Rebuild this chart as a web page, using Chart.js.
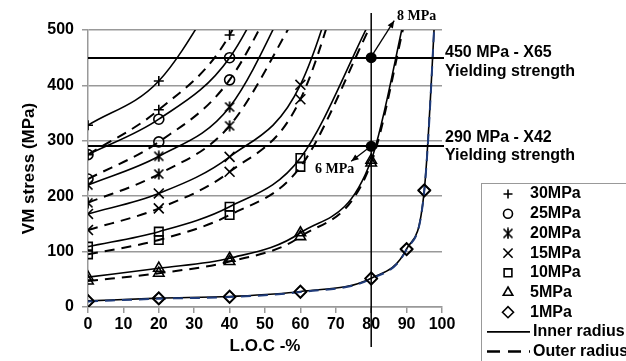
<!DOCTYPE html>
<html>
<head>
<meta charset="utf-8">
<script src="https://cdn.jsdelivr.net/npm/chart.js@4.4.0/dist/chart.umd.min.js"></script>
<style>
  html, body { margin: 0; padding: 0; background: #fff; }
  #wrap { width: 626px; height: 361px; position: relative; }
</style>
</head>
<body>
<div id="wrap"><canvas id="myChart" width="626" height="361"></canvas></div>
<script>
// L.O.C positions (%) where the curves were sampled
const locPct = [0, 20, 40, 60, 80, 90, 95, 99];

// VM stress (MPa), inner radius = solid, outer radius = dashed
const inner30 = [328, 408, 600];
const outer30 = [275, 356, 491, 800];
const inner25 = [275, 339, 450, 700];
const outer25 = [231, 298, 410, 650];
const inner20 = [220, 272, 361, 600];
const outer20 = [188, 240, 327, 540];
const inner15 = [168, 205, 271, 401, 800];
const outer15 = [139, 178, 244, 375, 780];
const inner10 = [109, 136, 181, 269, 520];
const outer10 = [95, 121, 166, 253, 510];
const inner5 = [54, 70, 88, 134, 265, 540];
const outer5 = [47, 61, 82, 127, 260, 530];
const inner1 = [11, 16, 19, 28, 52, 105, 211, 650];
const outer1 = [10, 15, 18, 27, 51, 104, 210, 650];

const pressures = ["30MPa", "25MPa", "20MPa", "15MPa", "10MPa", "5MPa", "1MPa"];
const xTicks = [0, 10, 20, 30, 40, 50, 60, 70, 80, 90, 100];
const yTicks = [0, 100, 200, 300, 400, 500];
const yieldLines = [450, 290];

// star marker like excel (x with a vertical bar)
const star = document.createElement("canvas");
star.width = 12;
star.height = 12;
const sctx = star.getContext("2d");
sctx.strokeStyle = "#000";
sctx.lineWidth = 1.7;
sctx.beginPath();
sctx.moveTo(1.5, 1.5); sctx.lineTo(10.5, 10.5);
sctx.moveTo(10.5, 1.5); sctx.lineTo(1.5, 10.5);
sctx.moveTo(6, 0.5); sctx.lineTo(6, 11.5);
sctx.stroke();

const styles = ["cross", "circle", star, "crossRot", "rect", "triangle", "rectRot"];
const radii = [5, 5, 6, 7, 6, 6, 6];

function pts(vals) {
  return vals.map((v, i) => ({ x: locPct[i], y: v }));
}

function series(label, vals, k, dashed, color) {
  return {
    label: label,
    data: pts(vals),
    borderColor: color || "#000",
    borderWidth: dashed ? 2 : 1.6,
    borderDash: dashed ? [10, 7] : [],
    pointStyle: styles[k],
    pointRadius: radii[k],
    pointBorderColor: "#000",
    pointBackgroundColor: "rgba(0,0,0,0)",
    pointBorderWidth: 1.6,
    fill: false,
    cubicInterpolationMode: "monotone",
  };
}

const datasets = [
  series("30 outer", outer30, 0, true),
  series("30 inner", inner30, 0, false),
  series("25 outer", outer25, 1, true),
  series("25 inner", inner25, 1, false),
  series("20 outer", outer20, 2, true),
  series("20 inner", inner20, 2, false),
  series("15 outer", outer15, 3, true),
  series("15 inner", inner15, 3, false),
  series("10 outer", outer10, 4, true),
  series("10 inner", inner10, 4, false),
  series("5 outer", outer5, 5, true),
  series("5 inner", inner5, 5, false),
  series("1 outer", outer1, 6, true, "#1f3b7a"),
  series("1 inner", inner1, 6, false),
];

function arrow(ctx, x1, y1, x2, y2) {
  ctx.beginPath();
  ctx.moveTo(x1, y1);
  ctx.lineTo(x2, y2);
  ctx.stroke();
  const a = Math.atan2(y2 - y1, x2 - x1);
  ctx.beginPath();
  ctx.moveTo(x2, y2);
  ctx.lineTo(x2 - 8 * Math.cos(a - 0.4), y2 - 8 * Math.sin(a - 0.4));
  ctx.lineTo(x2 - 8 * Math.cos(a + 0.4), y2 - 8 * Math.sin(a + 0.4));
  ctx.closePath();
  ctx.fill();
}

const extras = {
  id: "extras",
  afterDraw(chart) {
    const ctx = chart.ctx;
    const xs = chart.scales.x, ys = chart.scales.y;
    const ca = chart.chartArea;
    ctx.save();
    ctx.strokeStyle = "#000";
    ctx.fillStyle = "#000";

    // yield strength lines
    ctx.lineWidth = 2;
    yieldLines.forEach(v => {
      const y = Math.round(ys.getPixelForValue(v));
      ctx.beginPath();
      ctx.moveTo(ca.left, y);
      ctx.lineTo(ca.right + 2, y);
      ctx.stroke();
    });

    // vertical line at 80 %
    const x80 = xs.getPixelForValue(80);
    ctx.lineWidth = 1.5;
    ctx.beginPath();
    ctx.moveTo(x80, 13);
    ctx.lineTo(x80, 347);
    ctx.stroke();

    // intersection dots
    yieldLines.forEach(v => {
      ctx.beginPath();
      ctx.arc(x80, ys.getPixelForValue(v), 5.5, 0, Math.PI * 2);
      ctx.fill();
    });

    // arrows + labels
    ctx.lineWidth = 1.3;
    const y450 = ys.getPixelForValue(450), y290 = ys.getPixelForValue(290);
    arrow(ctx, x80 + 2, y450 - 4, x80 + 23, y450 - 37);
    arrow(ctx, x80 - 3, y290 + 2, x80 - 20, y290 + 15);
    ctx.font = "bold 14px 'Liberation Serif', 'Times New Roman', serif";
    ctx.textBaseline = "alphabetic";
    ctx.textAlign = "left";
    ctx.fillText("8 MPa", 397, 20);
    ctx.fillText("6 MPa", 315, 173);

    ctx.font = "bold 16px 'Liberation Sans', Arial, sans-serif";
    ctx.fillText("450 MPa - X65", 445, 57);
    ctx.fillText("Yielding strength", 445, 76);
    ctx.fillText("290 MPa - X42", 445, 142);
    ctx.fillText("Yielding strength", 445, 160);

    // legend box
    ctx.strokeStyle = "#999";
    ctx.lineWidth = 1;
    ctx.strokeRect(481.5, 183.5, 160, 190);
    ctx.strokeStyle = "#000";
    ctx.textBaseline = "middle";
    const rowY = i => 194 + i * 19.7;
    pressures.forEach((p, i) => {
      ctx.fillStyle = "rgba(0,0,0,0)";
      ctx.lineWidth = 1.6;
      Chart.helpers.drawPoint(ctx, {
        pointStyle: styles[i], rotation: 0, radius: radii[i] - 0.5, borderWidth: 1.6
      }, 508, rowY(i));
      ctx.fillStyle = "#000";
      ctx.fillText(p, 530, rowY(i));
    });
    ctx.lineWidth = 1.6;
    ctx.beginPath();
    ctx.moveTo(487, rowY(7));
    ctx.lineTo(530, rowY(7));
    ctx.stroke();
    ctx.fillText("Inner radius", 533, rowY(7));
    ctx.lineWidth = 2.5;
    ctx.setLineDash([13, 8]);
    ctx.beginPath();
    ctx.moveTo(487, rowY(8));
    ctx.lineTo(530, rowY(8));
    ctx.stroke();
    ctx.setLineDash([]);
    ctx.fillText("Outer radius", 533, rowY(8));
    ctx.restore();
  }
};

const tickFont = { family: "'Liberation Sans', Arial, sans-serif", size: 16, weight: "bold" };
const titleFont = { family: "'Liberation Sans', Arial, sans-serif", size: 17, weight: "bold" };

new Chart(document.getElementById("myChart"), {
  type: "line",
  data: { datasets: datasets },
  options: {
    responsive: false,
    animation: false,
    events: [],
    layout: { padding: { top: 30, right: 184, left: 0, bottom: 0 } },
    plugins: { legend: { display: false }, tooltip: { enabled: false } },
    scales: {
      x: {
        type: "linear",
        min: 0,
        max: 100,
        afterBuildTicks: (s) => { s.ticks = xTicks.map(v => ({ value: v })); },
        afterFit: (s) => { s.height = 54; },
        ticks: { font: tickFont, color: "#000", padding: 2 },
        grid: { drawOnChartArea: false, drawTicks: true, tickLength: 6, color: "#999", lineWidth: 1.5 },
        border: { color: "#999", width: 1.5 },
        title: { display: true, text: "L.O.C -%", font: titleFont, color: "#000", padding: { top: 0 } },
      },
      y: {
        min: 0,
        max: 500,
        afterBuildTicks: (s) => { s.ticks = yTicks.map(v => ({ value: v })); },
        afterFit: (s) => { s.width = 88; },
        ticks: { font: tickFont, color: "#000", padding: 8 },
        grid: { color: "#999", lineWidth: 1.5, tickLength: 6 },
        border: { color: "#999", width: 1.5 },
        title: { display: true, text: "VM stress (MPa)", font: titleFont, color: "#000", padding: { top: 19 } },
      },
    },
  },
  plugins: [extras],
});
</script>
</body>
</html>
